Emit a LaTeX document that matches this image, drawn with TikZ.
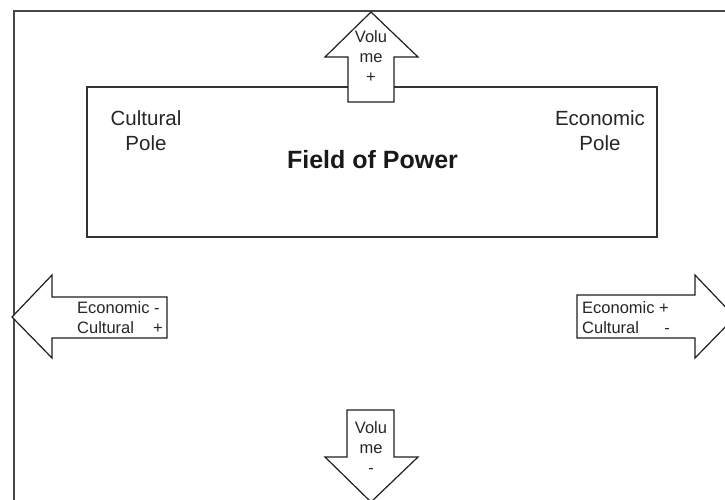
\documentclass[tikz,border=0pt]{standalone}
\usepackage{fontspec}
\setmainfont{Liberation Sans}
\begin{document}
\begin{tikzpicture}[x=1pt,y=-1pt,
  frameline/.style={draw=black!72, line width=1.6pt},
  fieldbox/.style={draw=black!80, line width=1.6pt, inner sep=0pt},
  arrowshape/.style={draw=black!88, fill=white, line width=1.2pt, line join=miter},
  poletxt/.style={font=\fontsize{20.5}{25}\selectfont, text=black!85, inner sep=0pt, anchor=base},
  titletxt/.style={font=\fontsize{25}{30}\selectfont\bfseries, text=black!90, inner sep=0pt, anchor=base},
  smalltxt/.style={font=\fontsize{16.5}{20}\selectfont, text=black!85, inner sep=0pt, anchor=base},
]
\useasboundingbox (0,0) rectangle (725,499);
\begin{scope}
\clip (0,0) rectangle (725,499);

% outer frame (runs past the right and bottom edges)
\draw[frameline] (740,11) -- (14,11) -- (14,510);

% the field of power box
\node[fieldbox, minimum width=570pt, minimum height=150pt] (box) at (372,162) {};
\node[poletxt] (cult1) at (146,125) {Cultural};
\node[poletxt] (cult2) at (146,150) {Pole};
\node[poletxt] (econ1) at (600,125) {Economic};
\node[poletxt] (econ2) at (600,150) {Pole};
\node[titletxt] (title) at (372.5,168) {Field of Power};

% volume +  (up)
\draw[arrowshape] (371,12) -- (418,57) -- (394,57) -- (394,102) -- (348,102)
  -- (348,57) -- (325,57) -- cycle;
\node[smalltxt] (up1) at (371,42) {Volu};
\node[smalltxt] (up2) at (371,62) {me};
\node[smalltxt] (up3) at (371,82) {+};

% volume -  (down)
\draw[arrowshape] (347,410) -- (394,410) -- (394,457) -- (418,457) -- (371,502)
  -- (325,457) -- (347,457) -- cycle;
\node[smalltxt] (dn1) at (371,433) {Volu};
\node[smalltxt] (dn2) at (371,453) {me};
\node[smalltxt] (dn3) at (371,473) {-};

% economic - / cultural +  (left)
\draw[arrowshape] (12,317) -- (52,275) -- (52,297) -- (167,297) -- (167,338)
  -- (52,338) -- (52,358) -- cycle;
\node[smalltxt, anchor=base west] (lt1) at (77,313) {Economic -};
\node[smalltxt, anchor=base west] (lt2) at (77,333) {Cultural};
\node[smalltxt, anchor=base east] (lt3) at (163,333) {+};

% economic + / cultural -  (right)
\draw[arrowshape] (577,295) -- (695,295) -- (695,275) -- (735,317) -- (695,358)
  -- (695,338) -- (577,338) -- cycle;
\node[smalltxt, anchor=base west] (rt1) at (582,313) {Economic +};
\node[smalltxt, anchor=base west] (rt2) at (582,333) {Cultural};
\node[smalltxt] (rt3) at (667,333) {-};
\end{scope}
\end{tikzpicture}
\end{document}
